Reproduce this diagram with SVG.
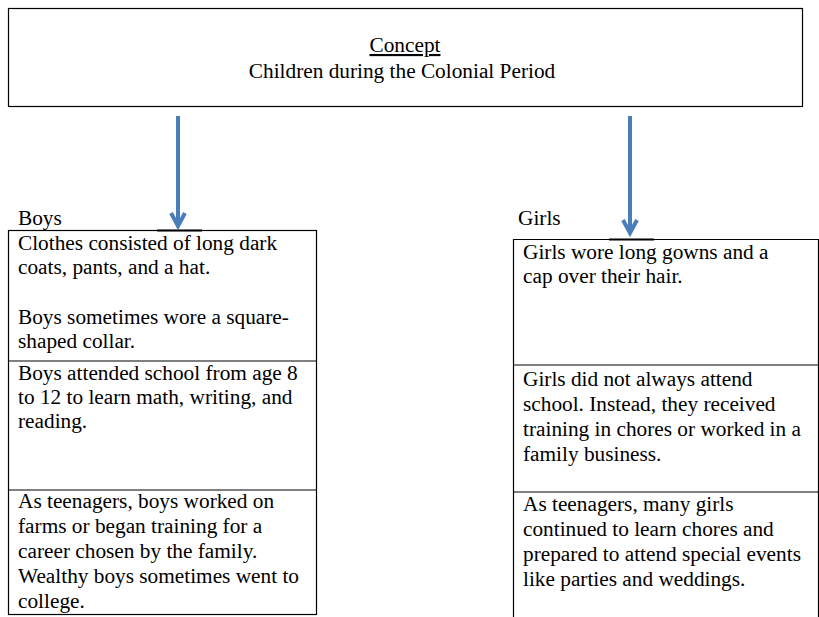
<svg xmlns="http://www.w3.org/2000/svg" width="819" height="617" viewBox="0 0 819 617">
<style>
.t{font-family:"Liberation Serif","Times New Roman",serif;font-size:21.3px;fill:#000}
.box{fill:none;stroke:#000;stroke-width:1.2}
.arr{fill:none;stroke:#4a7ebb;stroke-width:4;stroke-linecap:butt}
.ah{fill:none;stroke:#4a7ebb;stroke-width:4;stroke-linejoin:miter}
</style>
<rect width="819" height="617" fill="#fff"/>
<g id="concept">
<rect class="box" x="8.5" y="8.5" width="794" height="98"/>
<text class="t" x="405" y="52" text-anchor="middle" text-decoration="underline">Concept</text>
<text class="t" x="402" y="78" text-anchor="middle">Children during the Colonial Period</text>
</g>
<g id="boys">
<text class="t" x="18" y="225">Boys</text>
<rect class="box" x="8.5" y="230.5" width="308" height="384"/>
<line x1="8" y1="361" x2="316" y2="361" stroke="#000" stroke-width="1.2"/>
<line x1="8" y1="490" x2="316" y2="490" stroke="#000" stroke-width="1.2"/>
<line x1="157" y1="230.5" x2="202" y2="230.5" stroke="#000" stroke-width="2.2"/>
<text class="t" x="18" y="250">Clothes consisted of long dark</text>
<text class="t" x="18" y="274">coats, pants, and a hat.</text>
<text class="t" x="18" y="324">Boys sometimes wore a square-</text>
<text class="t" x="18" y="348">shaped collar.</text>
<text class="t" x="18" y="380">Boys attended school from age 8</text>
<text class="t" x="18" y="404">to 12 to learn math, writing, and</text>
<text class="t" x="18" y="428">reading.</text>
<text class="t" x="18" y="508">As teenagers, boys worked on</text>
<text class="t" x="18" y="533">farms or began training for a</text>
<text class="t" x="18" y="558">career chosen by the family.</text>
<text class="t" x="18" y="583">Wealthy boys sometimes went to</text>
<text class="t" x="18" y="608">college.</text>
</g>
<g id="girls">
<text class="t" x="518" y="225">Girls</text>
<path class="box" d="M513.5 620 V239.5 H818.5 V620"/>
<line x1="513" y1="365" x2="819" y2="365" stroke="#000" stroke-width="1.2"/>
<line x1="513" y1="492" x2="819" y2="492" stroke="#000" stroke-width="1.2"/>
<line x1="609" y1="239.5" x2="654" y2="239.5" stroke="#000" stroke-width="2.2"/>
<text class="t" x="523" y="259">Girls wore long gowns and a</text>
<text class="t" x="523" y="283">cap over their hair.</text>
<text class="t" x="523" y="386">Girls did not always attend</text>
<text class="t" x="523" y="411">school. Instead, they received</text>
<text class="t" x="523" y="436">training in chores or worked in a</text>
<text class="t" x="523" y="461">family business.</text>
<text class="t" x="523" y="511">As teenagers, many girls</text>
<text class="t" x="523" y="536">continued to learn chores and</text>
<text class="t" x="523" y="561">prepared to attend special events</text>
<text class="t" x="523" y="586">like parties and weddings.</text>
</g>
<g id="connectors">
<line class="arr" x1="178" y1="116" x2="178" y2="225"/>
<polyline class="ah" points="171,213 178,226 185,213"/>
<line class="arr" x1="630" y1="116" x2="630" y2="232"/>
<polyline class="ah" points="623,220 630,233 637,220"/>
</g>
</svg>
